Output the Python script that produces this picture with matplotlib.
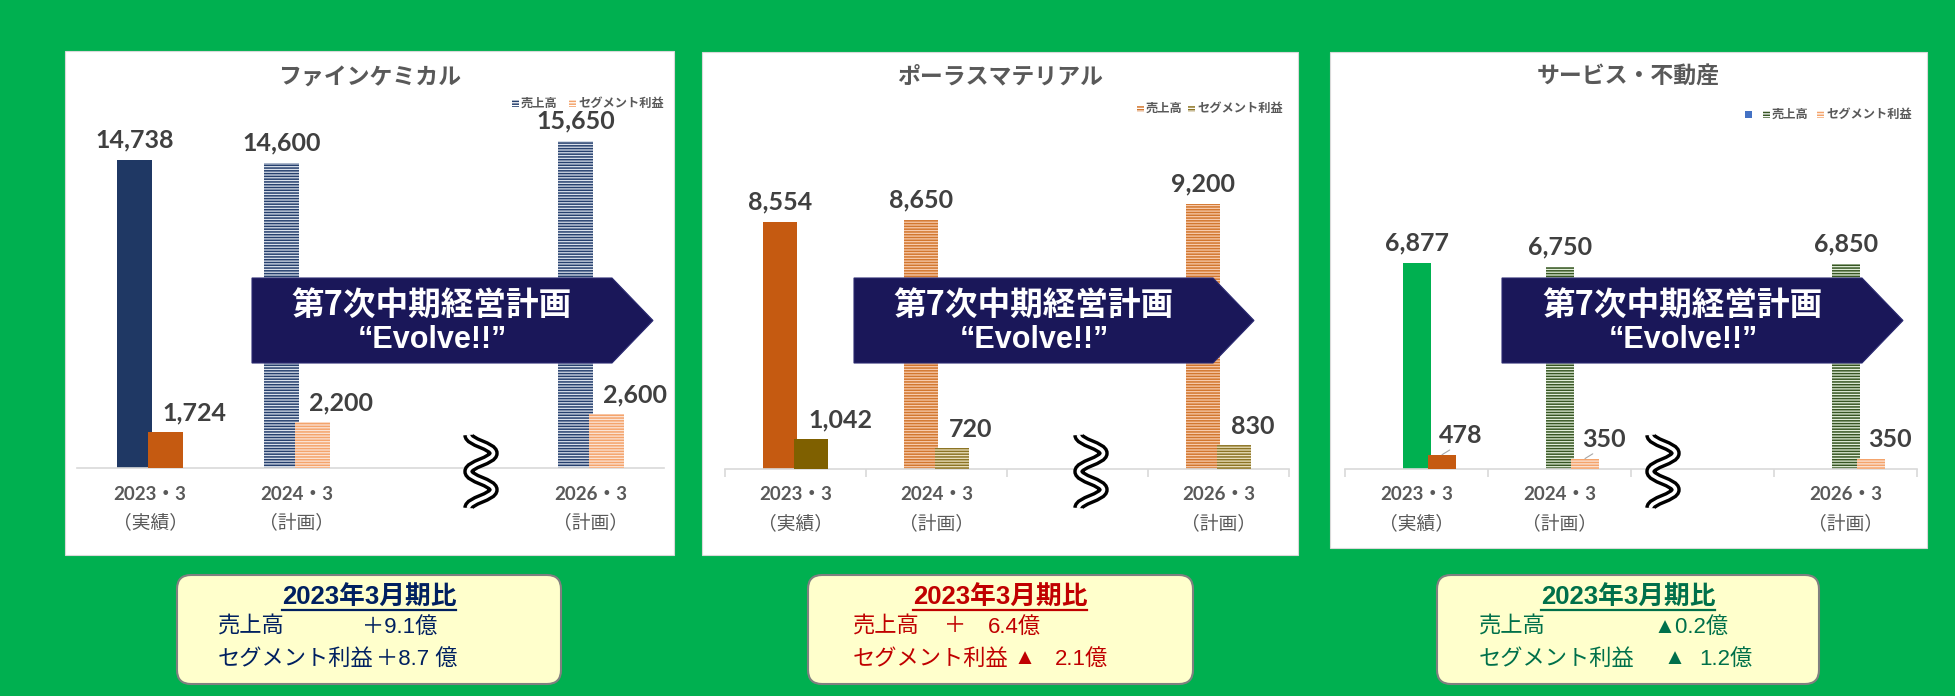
import numpy as np
import matplotlib
matplotlib.use("Agg")
import matplotlib.pyplot as plt
from matplotlib.patches import Rectangle, Polygon, FancyBboxPatch, PathPatch
from matplotlib.path import Path
from matplotlib.lines import Line2D
from matplotlib.transforms import Affine2D

W, H = 1956, 696
JP = ["Noto Sans CJK JP", "DejaVu Sans"]
LATIN_JP = ["Liberation Sans", "Noto Sans CJK JP"]
NUM = ["Lato", "Noto Sans CJK JP"]
plt.rcParams["font.family"] = JP
plt.rcParams["hatch.linewidth"] = 1.1

# ── data ────────────────────────────────────────────────────────────────
categories = ["2023・3", "2024・3", "", "2026・3"]   # 2025・3 slot = axis break
notes = ["（実績）", "（計画）", "", "（計画）"]

fine_sales = [14738, 14600, np.nan, 15650]
fine_profit = [1724, 2200, np.nan, 2600]
porous_sales = [8554, 8650, np.nan, 9200]
porous_profit = [1042, 720, np.nan, 830]
service_sales = [6877, 6750, np.nan, 6850]
service_profit = [478, 350, np.nan, 350]

titles = ["ファインケミカル", "ポーラスマテリアル", "サービス・不動産"]
series_names = ["売上高", "セグメント利益"]
plan_name = ["第7次中期経営計画", "“Evolve!!”"]

box_title = "2023年3月期比"
fine_change = ["＋9.1億", "＋8.7 億"]
porous_change = ["＋", "6.4億", "▲", "2.1億"]
service_change = ["▲0.2億", "▲", "1.2億"]

GREY = "#595959"

fig = plt.figure(figsize=(W / 100, H / 100), dpi=100)
fig.patch.set_facecolor("#00B050")
# pixel coords, origin top-left
PX = Affine2D().scale(1 / W, -1 / H).translate(0, 1) + fig.transFigure


def txt(x, y, s, **kw):
    return fig.text(x, y, s, transform=PX, **kw)


def squiggle(cx, y0, y1, amp=12.5):
    n = 4
    h = (y1 - y0) / n
    verts, codes = [(cx - amp, y0)], [Path.MOVETO]
    sign = -1
    for k in range(n):
        ya, yb = y0 + k * h, y0 + (k + 1) * h
        verts += [(cx + sign * amp, ya + 0.42 * h),
                  (cx - sign * amp, yb - 0.42 * h),
                  (cx - sign * amp, yb)]
        codes += [Path.CURVE4] * 3
        sign = -sign
    path = Path(verts, codes)
    for lw, col in ((7.5, "black"), (2.6, "white")):
        fig.add_artist(PathPatch(path, transform=PX, fill=False, lw=lw,
                                 edgecolor=col, zorder=6, capstyle="butt"))


def banner(x0, x1, tip, tx, y0=278, y1=363):
    ym = (y0 + y1) / 2
    fig.add_artist(Polygon([(x0, y0), (x1, y0), (tip, ym), (x1, y1), (x0, y1)],
                           closed=True, transform=PX, facecolor="#1A1759",
                           edgecolor="#2B2A72", lw=0.8, zorder=5))
    txt(tx, 305, plan_name[0], ha="center", va="center", color="white",
        fontsize=23.5, fontweight="bold", zorder=7)
    txt(tx, 340, plan_name[1], ha="center", va="center", color="white",
        fontsize=22, fontweight="bold", family=["Liberation Sans", "DejaVu Sans"],
        zorder=7)


def legend_marker(x, y, face, hatchc, hatch="------", size=7):
    fig.add_artist(Rectangle((x, y - size / 2), size, size, transform=PX,
                             facecolor=face, edgecolor=hatchc, hatch=hatch,
                             lw=0, zorder=6))


panels = [
    dict(sales=fine_sales, profit=fine_profit, title=titles[0],
         card=(65, 51, 674, 555), axx=(76.5, 664.5), base=468, ymax=17600,
         width=0.238, off=(-0.105, 0.105), bounds=False,
         solid=("#1F3864", "#C55A11"),
         plan=(("#DAE1EC", "#26406E"), ("#FCE4D6", "#F4A46C")),
         legend=[(512, 521, 0), (569, 578, 1)], legend_y=103,
         banner=(252, 612, 653, 432), brk=481, leaders=False),
    dict(sales=porous_sales, profit=porous_profit, title=titles[1],
         card=(702, 52, 1298, 555), axx=(725, 1289), base=469, ymax=12800,
         width=0.24, off=(-0.11, 0.11), bounds=True,
         solid=("#C55A11", "#7F6000"),
         plan=(("#F8CBAD", "#D2772F"), ("#EDE3C2", "#8C7424")),
         legend=[(1137, 1146, 0), (1188, 1197, 1)], legend_y=108,
         banner=(854, 1213, 1254, 1034), brk=1091, leaders=False),
    dict(sales=service_sales, profit=service_profit, title=titles[2],
         card=(1330, 52, 1927, 548), axx=(1345.5, 1917.5), base=469, ymax=12340,
         width=0.2, off=(0.0, 0.175), bounds=True,
         solid=("#00B050", "#C55A11"),
         plan=(("#E2EFDA", "#375623"), ("#FCE4D6", "#F4A46C")),
         legend=[(1763, 1772, 0), (1817, 1826, 1)], legend_y=114,
         banner=(1502, 1862, 1903, 1683), brk=1663, leaders=True),
]

for p in panels:
    cx0, cy0, cx1, cy1 = p["card"]
    fig.add_artist(Rectangle((cx0, cy0), cx1 - cx0, cy1 - cy0, transform=PX,
                             facecolor="white", edgecolor="#D9D9D9", lw=0.8,
                             zorder=-1))
    ax0, ax1 = p["axx"]
    ax = fig.add_axes([ax0 / W, 1 - p["base"] / H, (ax1 - ax0) / W,
                       (p["base"] - 100) / H])
    ax.set_facecolor("none")
    x = np.arange(len(categories))
    actual = [n == "（実績）" for n in notes]

    for k, (vals, off) in enumerate(zip((p["sales"], p["profit"]), p["off"])):
        bars = ax.bar(x + off, vals, p["width"], zorder=2 + k, lw=0)
        for i, b in enumerate(bars):
            if actual[i]:
                b.set_facecolor(p["solid"][k])
                b.set_edgecolor(p["solid"][k])
            else:
                face, hc = p["plan"][k]
                b.set_facecolor(face)
                b.set_edgecolor(hc)
                b.set_hatch("------")
            v = vals[i]
            if np.isnan(v):
                continue
            if k == 0:
                ax.annotate(f"{v:,}", xy=(x[i] + off, v), xytext=(0, 20),
                            textcoords="offset pixels", ha="center", va="center",
                            fontsize=18, fontweight="bold", color="#404040",
                            family=NUM)
            else:
                arrow = None
                if p["leaders"] and i < 2:
                    arrow = dict(arrowstyle="-", color="#A6A6A6", lw=0.8,
                                 shrinkA=0, shrinkB=0, relpos=(0.35, 0.0))
                ax.annotate(f"{v:,}", xy=(x[i] + off, v), xytext=(-3, 19),
                            textcoords="offset pixels", ha="left", va="center",
                            fontsize=18, fontweight="bold", color="#404040",
                            family=NUM, arrowprops=arrow)

    ax.set_xlim(-0.5, len(categories) - 0.5)
    ax.set_ylim(0, p["ymax"])
    for s in ("top", "left", "right"):
        ax.spines[s].set_visible(False)
    ax.spines["bottom"].set_color("#D9D9D9")
    ax.spines["bottom"].set_linewidth(1.2)
    ax.set_yticks([])
    ax.set_xticks([])
    if p["bounds"]:
        ax.set_xticks(np.arange(len(categories) + 1) - 0.5, minor=True)
        ax.tick_params(axis="x", which="minor", length=6, color="#D9D9D9",
                       width=1.2, labelbottom=False)

    for i, (c, n) in enumerate(zip(categories, notes)):
        if not c:
            continue
        ax.annotate(c, xy=(i, 0), xycoords=("data", "axes fraction"),
                    xytext=(0, -26), textcoords="offset pixels", ha="center",
                    va="center", fontsize=13.5, fontweight="bold", color=GREY,
                    family=NUM)
        ax.annotate(n, xy=(i, 0), xycoords=("data", "axes fraction"),
                    xytext=(0, -55), textcoords="offset pixels", ha="center",
                    va="center", fontsize=13.5, color=GREY)

    # title and legend
    txt((cx0 + cx1) / 2, 77, p["title"], ha="center", va="center",
        fontsize=16.5, fontweight="bold", color=GREY)
    ly = p["legend_y"]
    if p is panels[2]:
        fig.add_artist(Rectangle((1745, ly - 3.5), 7, 7, transform=PX,
                                 facecolor="#4472C4", lw=0, zorder=6))
    for mx, tx, k in p["legend"]:
        face, hc = p["plan"][k]
        legend_marker(mx, ly, "white", hc)
        txt(tx, ly, series_names[k], ha="left", va="center", fontsize=8.8,
            fontweight="bold", color=GREY)

    banner(*p["banner"])
    squiggle(p["brk"], 435, 508)

# ── comparison boxes ────────────────────────────────────────────────────
boxes = [
    dict(rect=(177, 575, 561, 684), color="#002060", cx=369,
         parts=[(218, 627, series_names[0]), (362, 627, fine_change[0]),
                (218, 659, series_names[1]), (376, 659, fine_change[1])]),
    dict(rect=(808, 575, 1193, 684), color="#C00000", cx=1000,
         parts=[(853, 627, series_names[0]), (944, 627, porous_change[0]),
                (988, 627, porous_change[1]),
                (853, 659, series_names[1]), (1014, 659, porous_change[2]),
                (1055, 659, porous_change[3])]),
    dict(rect=(1437, 575, 1819, 684), color="#00704A", cx=1628,
         parts=[(1479, 627, series_names[0]), (1653, 627, service_change[0]),
                (1479, 659, series_names[1]), (1663, 659, service_change[1]),
                (1699, 659, service_change[2])]),
]

heads = []
for b in boxes:
    x0, y0, x1, y1 = b["rect"]
    fig.add_artist(FancyBboxPatch((x0, y0), x1 - x0, y1 - y0,
                                  boxstyle="round,pad=0,rounding_size=14",
                                  transform=PX, facecolor="#FFFFCC",
                                  edgecolor="#808080", lw=1.5, zorder=2))
    t = txt(b["cx"], 598, box_title, ha="center", va="center", fontsize=18.5,
            fontweight="bold", color=b["color"], family=LATIN_JP, zorder=3)
    heads.append((t, b["color"]))
    for px_, py_, s in b["parts"]:
        txt(px_, py_, s, ha="left", va="center", fontsize=16,
            color=b["color"], family=LATIN_JP, zorder=3)

fig.canvas.draw()
for t, col in heads:
    bb = t.get_window_extent()
    fig.add_artist(Line2D([bb.x0, bb.x1], [610, 610], transform=PX,
                          color=col, lw=1.6, zorder=3))

fig.savefig("out.png", dpi=100, facecolor=fig.get_facecolor())
